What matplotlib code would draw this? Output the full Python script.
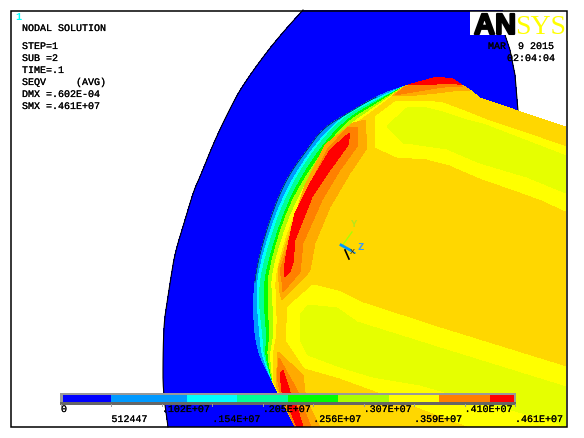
import matplotlib
matplotlib.use("Agg")
import matplotlib.pyplot as plt
import matplotlib.patheffects as pe
from matplotlib.patches import Polygon, Rectangle

# everything in pixel coordinates
W, H = 584, 438

BLUE = "#0000ff"
SKY = "#0099ff"
CYAN = "#00ffff"
SPRING = "#00ff99"
GREEN = "#00ff00"
LIME = "#aaff00"
YELLOW = "#ffff00"
LEMON = "#e6ff00"
GOLD = "#ffd700"
AMBER = "#ffaa00"
ORANGE = "#ff8000"
RED = "#ff0000"

outer_left = [(168, 427), (163, 390), (163, 357), (164, 323), (167, 303), (171, 277), (175, 253), (185, 220),
              (194, 190), (200, 177), (212, 147), (222, 125), (232, 105), (240, 90), (255, 68), (270, 48),
              (285, 30), (303, 10)]
outer_right = [(502, 10), (505, 35), (510, 50), (515, 75), (518, 111)]

rim = [(405, 86), (387, 92), (370, 100), (350, 112), (323, 128), (307, 150), (290, 173), (277, 200),
       (265, 235), (256, 270), (253, 303), (255, 337), (260, 357), (273, 383)]
body_rest = [(295, 427), (566, 427), (566, 127), (518, 111), (480, 98), (470, 90), (462, 85), (453, 79), (437, 77)]

band_cyan = [(405, 86), (371, 101), (341, 117), (309, 152), (280, 201), (258, 270), (257, 303), (260, 337), (262, 356), (273, 383)]
band_spring = [(405, 86), (371, 103), (342, 118), (311, 153), (282, 203), (261, 271), (259, 303), (263, 337), (264, 356), (273, 383)]
band_green = [(405, 86), (372, 104), (344, 121), (314, 156), (286, 205), (265, 272), (264, 303), (267, 337), (265, 355), (273, 383)]
band_lime = [(405, 86), (373, 106), (345, 123), (317, 159), (288, 206), (268, 272), (268, 303), (270, 337), (267, 354), (273, 383)]
band_yellow = [(405, 86), (374, 108), (347, 126), (320, 161), (292, 208), (271, 273), (273, 303), (274, 337), (270, 353), (273, 383)]
band_gold = [(405, 86), (375, 110), (349, 128), (323, 164), (295, 210), (275, 274), (277, 303), (277, 337), (273, 352), (274, 383)]

left_amber = [(353, 123), (365, 120), (367, 148), (350, 173), (330, 207), (315, 243), (310, 270), (308, 273),
              (282, 300), (280, 293), (278, 270), (305, 185), (325, 145)]
left_orange = [(347, 128), (358, 127), (358, 145), (340, 170), (322, 200), (303, 243), (300, 272), (283, 292),
               (282, 282), (280, 270), (307, 190), (327, 150)]
left_red = [(347, 135), (350, 133), (348, 145), (330, 170), (312, 197), (295, 240), (293, 263), (290, 272),
            (285, 277), (284, 270), (287, 250), (295, 213), (312, 180), (330, 150)]

low_amber = [(278, 352), (303, 375), (305, 392), (310, 407), (320, 427), (295, 427), (276, 385)]
low_orange = [(279, 358), (297, 390), (303, 407), (311, 427), (295, 427), (280, 392), (277, 377)]
low_red = [(280, 373), (283, 370), (290, 392), (297, 407), (303, 427), (297, 427), (290, 410), (282, 392)]

cap_amber = [(392, 96), (405, 86), (437, 77), (453, 79), (462, 85), (470, 90), (453, 91), (437, 93), (417, 95)]
cap_orange = [(395, 95), (405, 87), (437, 77), (453, 79), (463, 87), (453, 86), (437, 88), (413, 92)]
cap_red = [(408, 85), (437, 77), (453, 79), (462, 85), (453, 83), (437, 84), (420, 85)]

top_yellow = [(375, 117), (395, 102), (427, 101), (443, 103), (467, 112), (487, 120), (517, 130), (566, 147),
              (566, 211), (542, 200), (520, 192), (480, 178), (450, 165), (427, 159), (397, 157), (375, 147)]
top_lemon = [(387, 126), (407, 108), (423, 107), (443, 112), (467, 120), (483, 124), (566, 156),
             (566, 193), (527, 177), (480, 163), (447, 149), (413, 144), (403, 143)]
low_yellow = [(288, 307), (313, 285), (338, 291), (363, 303), (440, 328), (566, 367), (566, 427), (470, 427),
              (373, 390), (340, 378), (305, 368), (286, 340)]
low_lemon = [(300, 315), (308, 305), (337, 308), (357, 322), (440, 348), (566, 387), (566, 427), (550, 420),
             (480, 402), (420, 385), (373, 377), (340, 367), (308, 355), (300, 340)]

# legend
legend_values = [0, 512447, 1024894, 1537341, 2049788, 2562235, 3074682, 3587129, 4099576, 4612023]
legend_labels = ["0", "512447", ".102E+07", ".154E+07", ".205E+07", ".256E+07", ".307E+07", ".359E+07", ".410E+07", ".461E+07"]
legend_colors = [BLUE, SKY, CYAN, SPRING, GREEN, LIME, YELLOW, ORANGE, RED]
legend_edges = [63, 111, 187, 237, 288, 338, 389, 439, 490, 514]

info_lines = ["STEP=1", "SUB =2", "TIME=.1", "SEQV     (AVG)", "DMX =.602E-04", "SMX =.461E+07"]
date_text = "MAR  9 2015"
time_text = "02:04:04"

fig = plt.figure(figsize=(W / 100, H / 100), dpi=100, facecolor="white")
ax = fig.add_axes([0, 0, 1, 1])
ax.set_xlim(0, W)
ax.set_ylim(H, 0)
ax.axis("off")

heavy = [pe.withStroke(linewidth=0.12, foreground="black")]


def fill(points, color, z=1):
    ax.add_patch(Polygon(points, closed=True, facecolor=color, edgecolor="none", antialiased=False, zorder=z))


# round off the corners of a hand read curve, end points stay where they are
def smooth(points, rounds=2):
    for _ in range(rounds):
        new = [points[0]]
        for (x0, y0), (x1, y1) in zip(points[:-1], points[1:]):
            new.append((0.75 * x0 + 0.25 * x1, 0.75 * y0 + 0.25 * y1))
            new.append((0.25 * x0 + 0.75 * x1, 0.25 * y0 + 0.75 * y1))
        new.append(points[-1])
        points = new
    return points


def label(x, y, s, **kw):
    t = ax.text(x, y, s, fontsize=7.2, family="Liberation Mono", color=kw.pop("color", "black"), va="center", zorder=16, **kw)
    t.set_path_effects(heavy)
    return t


# blue part around the shaft
edge_left = smooth(outer_left)
fill(edge_left + outer_right + [(400, 300), (295, 427)], BLUE)
ax.plot(*zip(*edge_left), color="black", lw=0.8, zorder=2)
ax.plot(*zip(*outer_right[1:]), color="black", lw=0.8, zorder=2)

# shaft, painted from the rim inwards
rim_line = smooth(rim)
fill(rim_line + body_rest, SKY, 3)
fill(smooth(band_cyan) + body_rest, CYAN, 4)
fill(smooth(band_spring) + body_rest, SPRING, 5)
fill(smooth(band_green) + body_rest, GREEN, 6)
fill(smooth(band_lime) + body_rest, LIME, 7)
fill(smooth(band_yellow) + body_rest, YELLOW, 8)
fill(smooth(band_gold) + body_rest, GOLD, 9)

for pts, col in [(top_yellow, YELLOW), (top_lemon, LEMON), (low_yellow, YELLOW), (low_lemon, LEMON),
                 (left_amber, AMBER), (left_orange, ORANGE), (left_red, RED),
                 (low_amber, AMBER), (low_orange, ORANGE), (low_red, RED),
                 (cap_amber, AMBER), (cap_orange, ORANGE), (cap_red, RED)]:
    fill(pts, col, 10)
ax.plot(*zip(*rim_line[8:40]), color="black", lw=0.4, zorder=11)

# triad
ax.plot([342, 352], [246, 232], color=LIME, lw=1, zorder=12)
ax.plot([341, 355], [245, 253], color=SKY, lw=1, zorder=12)
ax.plot([341, 350], [245, 250], color=SKY, lw=2, zorder=12)
ax.plot([345, 349], [250, 259], color="black", lw=1.2, zorder=12)
ax.text(354, 224, "Y", color="#b4e61e", fontsize=7.5, family="Liberation Mono", weight="bold", ha="center", va="center", zorder=13)
ax.text(361, 247, "Z", color="#3399ff", fontsize=7.5, family="Liberation Mono", weight="bold", ha="center", va="center", zorder=13)
ax.text(352, 252, "X", color="#402000", fontsize=6, family="Liberation Mono", ha="center", va="center", zorder=13)

# legend bar
ax.add_patch(Rectangle((60, 393), 456, 11, facecolor="#999999", edgecolor="none", zorder=14))
ax.add_patch(Rectangle((60, 402), 456, 2.5, facecolor="#666666", edgecolor="none", zorder=14))
for col, x0, x1 in zip(legend_colors, legend_edges[:-1], legend_edges[1:]):
    ax.add_patch(Rectangle((x0, 395), x1 - x0, 7, facecolor=col, edgecolor="none", antialiased=False, zorder=15))
for i, (v, lab) in enumerate(zip(legend_values, legend_labels)):
    x = 61 + v / legend_values[-1] * 454
    ax.plot([x, x], [404, 406], color="#999999", lw=0.7, zorder=14)
    label(x, 409 if i % 2 == 0 else 419, lab, ha="left")

# header text
ax.text(15, 17, "1", color=CYAN, fontsize=7.5, family="Liberation Mono", weight="bold", va="center", zorder=16)
label(22, 28, "NODAL SOLUTION")
for i, line in enumerate(info_lines):
    label(22, 46 + i * 12, line)
label(488, 46, date_text)
label(507, 58, time_text)

# logo
ax.add_patch(Rectangle((470, 11), 96, 24, facecolor="white", edgecolor="none", zorder=17))
t = ax.text(474, 34, "AN", fontsize=21, family="Liberation Sans", weight="bold", color="black", ha="left", va="baseline", zorder=18)
t.set_path_effects([pe.withStroke(linewidth=1.5, foreground="black")])
ax.text(515, 34, "SYS", fontsize=20, family="Liberation Serif", color=YELLOW, ha="left", va="baseline", zorder=18)

# frame
ax.add_patch(Rectangle((10.5, 10.5), 556, 416.5, facecolor="none", edgecolor="black", lw=1.1, zorder=20))

fig.savefig("out.png", dpi=100, facecolor="white")
